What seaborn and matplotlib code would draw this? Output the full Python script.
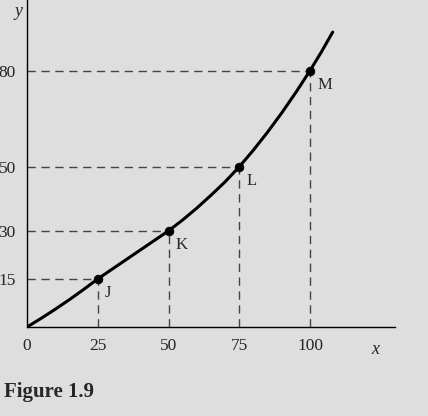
import matplotlib
matplotlib.use("Agg")
import matplotlib.pyplot as plt
import seaborn as sns
import pandas as pd

sns.set_style("white")
plt.rcParams['font.family'] = ['Liberation Serif', 'DejaVu Serif']

point_labels = ["J", "K", "L", "M"]
point_x = [25, 50, 75, 100]
point_y = [15, 30, 50, 80]
curve_x = [0, 5, 10, 15, 20, 25, 30, 35, 40, 45, 50, 55, 60, 65, 70, 75,
           80, 85, 90, 95, 100, 104, 108]
curve_y = [0, 2.7, 5.55, 8.55, 11.7, 15, 18, 21, 24, 27, 30, 33.4, 37.1,
           41.1, 45.3, 50, 55.2, 60.8, 66.8, 73.2, 80, 85.8, 92]
x_ticks = [0, 25, 50, 75, 100]
y_ticks = [15, 30, 50, 80]

bg = "#dedede"
fig = plt.figure(figsize=(4.28, 4.16), dpi=100, facecolor=bg)
ax = fig.add_axes([27/428, 89/416, 368/428, 327/416])
ax.set_facecolor(bg)

curve = pd.DataFrame({"x": curve_x, "y": curve_y})
sns.lineplot(data=curve, x="x", y="y", ax=ax, color="black", lw=2.2, sort=True)

for lab, px, py in zip(point_labels, point_x, point_y):
    ax.plot([0, px], [py, py], ls=(0, (6, 4)), color="#444444", lw=1)
    ax.plot([px, px], [0, py], ls=(0, (6, 4)), color="#444444", lw=1)
    ax.text(px + 2.5, py - 2, lab, fontsize=12, va="top", ha="left")
sns.scatterplot(x=point_x, y=point_y, ax=ax, color="black", edgecolor="black",
                s=40, zorder=5)

ax.set_xlim(0, 130)
ax.set_ylim(0, 102)
ax.set_xticks(x_ticks)
ax.set_yticks(y_ticks)
ax.tick_params(length=0, labelsize=12.5, pad=8)
ax.set_xlabel("")
ax.set_ylabel("")
for s in ["top", "right"]:
    ax.spines[s].set_visible(False)
for s in ["left", "bottom"]:
    ax.spines[s].set_color("black")
    ax.spines[s].set_linewidth(1)
ax.text(-1.5, 101, "y", style="italic", fontsize=13, ha="right", va="top")
ax.text(123, -4.5, "x", style="italic", fontsize=13, ha="center", va="top")
fig.text(4/428, 1 - 392/416, "Figure 1.9", fontsize=15, fontweight="bold", va="center")
fig.savefig("out.png", dpi=100, facecolor=bg)
